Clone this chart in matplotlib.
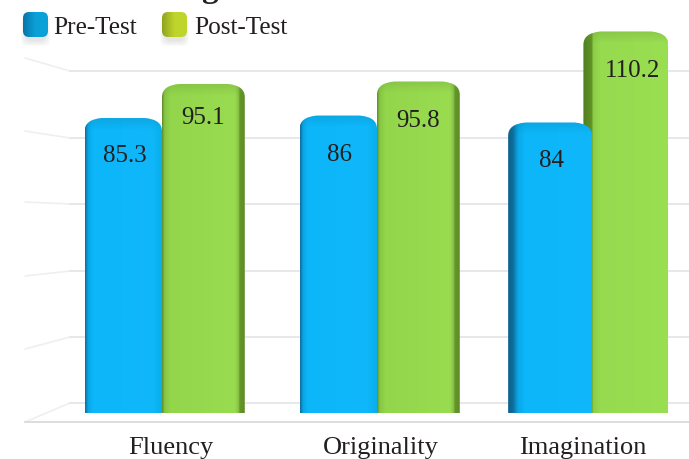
import matplotlib
matplotlib.use('Agg')
import matplotlib.pyplot as plt
from matplotlib.colors import to_rgb, LinearSegmentedColormap
from matplotlib.patches import FancyBboxPatch, PathPatch
from matplotlib.path import Path
import numpy as np

plt.rcParams['font.family'] = ['Liberation Serif', 'DejaVu Serif']

categories = ['Fluency', 'Originality', 'Imagination']
pre_test = [85.3, 86, 84]
post_test = [95.1, 95.8, 110.2]
pre_labels = ['85.3', '86', '84']
post_labels = ['95.1', '95.8', '110.2']

W, H = 689, 460
PX_PER_X = 215.0   # one category step
PX_PER_Y = 3.475   # one value unit
X0, Y0 = 162.0, 414.0

fig = plt.figure(figsize=(W / 100, H / 100), dpi=100)

# pixel axes for the wall, floor and legend
deco = fig.add_axes([0, 0, 1, 1], zorder=1)
deco.set_xlim(0, W)
deco.set_ylim(H, 0)
deco.axis('off')

# data axes for the bars
ax = fig.add_axes([0, 0, 1, 1], zorder=2)
ax.set_xlim(-X0 / PX_PER_X, (W - X0) / PX_PER_X)
ax.set_ylim((Y0 - H) / PX_PER_Y, Y0 / PX_PER_Y)
ax.axis('off')
ax.patch.set_alpha(0)

# back wall grid with the slanted side wall
wall_y = [72, 139, 205, 272, 338, 404]
side_y = [59, 132, 203, 277, 350, 423]
for wy, sy in zip(wall_y, side_y):
    deco.plot([25, 70], [sy, wy], color='#efeff1', lw=1.2, solid_capstyle='round')
    deco.plot([70, W], [wy, wy], color='#e6e6ea', lw=1.3)
deco.plot([25, W], [423, 423], color='#dddddd', lw=1.4)


def shaded_bar(x, w, h, stops, corner=(0.08, 4.2), z=3):
    rx, ry = corner
    r = x + w
    verts = [(x, 0), (x, h - ry), (x, h - ry * 0.2), (x + rx, h - ry * 0.1), (r - rx, h - ry * 0.1),
             (r, h - ry * 0.2), (r, h - ry), (r, 0), (x, 0)]
    codes = [Path.MOVETO, Path.LINETO, Path.CURVE3, Path.CURVE3, Path.LINETO,
             Path.CURVE3, Path.CURVE3, Path.LINETO, Path.CLOSEPOLY]
    clip = PathPatch(Path(verts, codes), facecolor='none', edgecolor='none', zorder=z)
    ax.add_patch(clip)
    cmap = LinearSegmentedColormap.from_list('b', stops)
    grad = np.linspace(0, 1, 256).reshape(1, -1)
    im = ax.imshow(grad, extent=[x, r, 0, h + ry], cmap=cmap, aspect='auto', zorder=z, interpolation='bilinear')
    im.set_clip_path(clip)
    # darker rim along the cap
    cap = np.zeros((64, 2, 4))
    cap[..., :3] = np.array(to_rgb(stops[3][1])) * 0.75
    cap[..., 3] = np.linspace(0.5, 0, 64)[:, None]
    im2 = ax.imshow(cap, extent=[x, r, h - ry * 0.9, h + ry * 0.2], aspect='auto', zorder=z + 0.1, interpolation='bilinear')
    im2.set_clip_path(clip)


blue_right = [(0, '#0f6d9c'), (0.04, '#0aa6e6'), (0.1, '#0cb6f8'), (0.85, '#10b8fb'), (1, '#08aee9')]
blue_left = [(0, '#0b5f8c'), (0.06, '#0f6f9e'), (0.12, '#0aa8e8'), (0.2, '#0cb6f8'), (1, '#10b8fb')]
green_right = [(0, '#5f8a2a'), (0.03, '#86c544'), (0.1, '#93d64c'), (0.88, '#99dc50'), (0.925, '#86c045'),
               (0.94, '#64962a'), (1, '#5d8c24')]
green_left = [(0, '#4f7f1e'), (0.1, '#5f9226'), (0.12, '#8ccd48'), (0.2, '#96da4f'), (1, '#9ade52')]

pre_x = [-0.36, -0.36, -0.39]
pre_w = [0.36, 0.36, 0.39]
post_x = [0, 0, -0.04]
post_w = [0.385, 0.385, 0.395]

# label placement, in value units below the bar top and category steps from the bar middle
pre_drop = [11.15, 11.5, 11.3]
post_drop = [9.8, 11.4, 11.6]
post_shift = [0, 0, 0.03]
cat_shift = [0.04, 0.02, -0.045]

for i in range(len(categories)):
    post_stops = green_left if i == 2 else green_right
    pre_stops = blue_left if i == 2 else blue_right
    shaded_bar(i + post_x[i], post_w[i], post_test[i], post_stops, z=3)
    shaded_bar(i + pre_x[i], pre_w[i], pre_test[i], pre_stops, z=4)

    ax.text(i + pre_x[i] + pre_w[i] / 2 + 0.005, pre_test[i] - pre_drop[i], pre_labels[i],
            ha='center', va='center', fontsize=18, color='#231f20', zorder=6)
    ax.text(i + post_x[i] + post_w[i] / 2 + post_shift[i], post_test[i] - post_drop[i], post_labels[i],
            ha='center', va='center', fontsize=18, color='#231f20', zorder=6)
    ax.text(i + cat_shift[i], -9.8, categories[i],
            ha='center', va='center', fontsize=19, color='#231f20', zorder=6)


def legend_key(x, y, size, c_edge, c_mid):
    # soft shadow
    for k in range(6):
        deco.add_patch(FancyBboxPatch((x + 3 - k, y + 10 - k), size - 6 + 2 * k, size - 6 + 2 * k,
                                      boxstyle='round,pad=0,rounding_size=6', fc='#888888', ec='none',
                                      alpha=0.035, zorder=3))
    box = FancyBboxPatch((x, y), size, size, boxstyle='round,pad=0,rounding_size=6', fc='none', ec='none', zorder=4)
    deco.add_patch(box)
    cmap = LinearSegmentedColormap.from_list('k', [c_edge, c_mid, c_mid])
    im = deco.imshow(np.linspace(0, 1, 64).reshape(1, -1), extent=[x, x + size, y + size, y], cmap=cmap,
                     aspect='auto', zorder=4)
    im.set_clip_path(box)


legend_key(23, 13, 25, '#0775a8', '#0aa0d8')
legend_key(162, 13, 25, '#8fa320', '#bfd52c')
deco.set_xlim(0, W)
deco.set_ylim(H, 0)
deco.text(53, 28, 'Pre-Test', ha='left', va='center', fontsize=18.2, color='#231f20', zorder=5)
deco.text(194, 28, 'Post-Test', ha='left', va='center', fontsize=18.2, color='#231f20', zorder=5)
# tail of the cropped heading above the chart
deco.text(210, -3, 'g', ha='center', va='baseline', fontsize=24, fontweight='bold', color='#231f20', zorder=5)

fig.savefig('out.png', dpi=100)
